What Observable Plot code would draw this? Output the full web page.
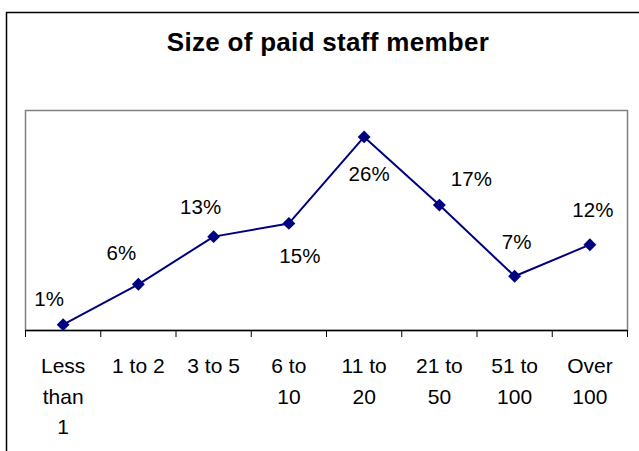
<!DOCTYPE html>
<html><head><meta charset="utf-8">
<script src="https://cdn.jsdelivr.net/npm/d3@7"></script>
<script src="https://cdn.jsdelivr.net/npm/@observablehq/plot@0.6"></script>
<style>html,body{margin:0;padding:0;background:#fff} svg{display:block}</style>
</head><body><div id="chart"></div>
<script>
const title = "Size of paid staff member";
const categories = ["Less\nthan\n1", "1 to 2", "3 to 5", "6 to\n10", "11 to\n20", "21 to\n50", "51 to\n100", "Over\n100"];
const shares = [0.8, 6.3, 12.8, 14.6, 26.4, 17.1, 7.4, 11.7];
const yMax = 30;

// label placement offsets (styling): [dx, dy] from each point
const labelOffsets = [[-14, -25], [-17, -31], [-13, -29], [11, 33], [5, 38], [32, -26], [2, -34], [3, -34]];

const data = categories.map((c, i) => ({i, cat: c, value: shares[i], label: Math.round(shares[i]) + "%"}));
const xPos = d => d.i + 0.5;
const font = "'Liberation Sans', Arial, sans-serif";

const plot = Plot.plot({
  width: 639, height: 451,
  marginLeft: 25, marginRight: 12, marginTop: 110, marginBottom: 121,
  x: {type: "linear", domain: [0, categories.length], axis: null},
  y: {domain: [0, yMax], axis: null},
  style: {fontFamily: font, background: "#fff", color: "#000"},
  marks: [
    Plot.frame({stroke: "#808080", strokeWidth: 1.5}),
    Plot.axisX(d3.range(0, categories.length + 1), {tickSize: 7, tickFormat: () => "", stroke: "#000"}),
    Plot.ruleY([0], {stroke: "#000", strokeWidth: 1.5}),
    Plot.line(data, {x: xPos, y: "value", stroke: "#000080", strokeWidth: 2}),
    Plot.dot(data, {x: xPos, y: "value", symbol: "diamond2", r: 5.8, fill: "#000080", stroke: "none"}),
    ...data.map((d, k) => Plot.text([d], {x: xPos, y: "value", text: "label", dx: labelOffsets[k][0], dy: labelOffsets[k][1], fontSize: 20.5, fill: "#000"})),
    Plot.text(data, {x: xPos, text: "cat", frameAnchor: "bottom", lineAnchor: "top", dy: 21, fontSize: 21, lineHeight: 1.45, fill: "#000", letterSpacing: "1.2px"})
  ]
});

const svg = d3.select(plot);
svg.insert("rect", ":first-child").attr("x", 0).attr("y", 0).attr("width", 639).attr("height", 451).attr("fill", "#fff");
svg.append("rect").attr("x", 6.5).attr("y", 12.5).attr("width", 700).attr("height", 500)
  .attr("fill", "none").attr("stroke", "#000").attr("stroke-width", 1.5);
svg.append("text").attr("x", 328).attr("y", 51).attr("text-anchor", "middle")
  .attr("font-family", font).attr("font-weight", "bold").attr("font-size", 26)
  .attr("letter-spacing", "0.3px").attr("fill", "#000")
  .text(title);

document.getElementById("chart").appendChild(plot);
</script>
</body></html>
